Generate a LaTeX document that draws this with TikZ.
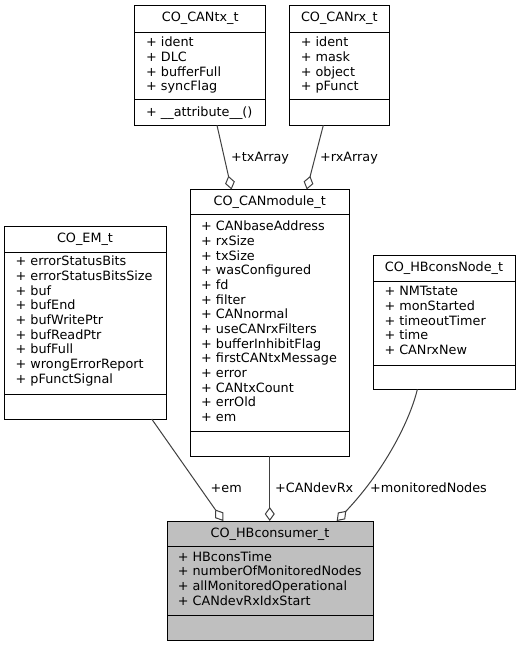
\documentclass[tikz,border=0pt]{standalone}
\usepackage{fontspec}
\setmainfont{DejaVu Sans}
\usetikzlibrary{arrows.meta}

\definecolor{edgegray}{HTML}{404040}
\definecolor{classgray}{HTML}{BFBFBF}
\newcommand\umlfont{\fontsize{12.8pt}{14.67pt}\selectfont}

% class box: name, left, right, top, first separator, second separator, bottom, title, fill
\newcommand\umlclass[9]{%
  \node[classbox, fill=#9, minimum width={(#3-#2)*1pt}, minimum height={(#7-#4)*1pt}]
    (#1) at ({(#2+#3)/2},{(#4+#7)/2}) {};
  \node[classtitle] (#1-title) at ({(#2+#3)/2},{#4+16.3}) {#8};
  \draw[line width=1pt] (#2,#5) -- (#3,#5) (#2,#6) -- (#3,#6);
}
% member lines: name, x, first baseline, list
\newcommand\umlmembers[4]{%
  \foreach \m [count=\k from 0] in {#4} {
    \node[member] (#1-m\k) at (#2,{#3+14.67*\k}) {\m};
  }
}

\begin{document}
\begin{tikzpicture}[x=1pt,y=-1pt,
  classbox/.style={draw=black, line width=1pt, inner sep=0pt, outer sep=0pt},
  member/.style={anchor=base west, inner sep=0pt, font=\umlfont},
  classtitle/.style={anchor=base, inner sep=0pt, font=\umlfont},
  rolelabel/.style={anchor=base west, inner sep=0pt, font=\umlfont},
  aggr/.style={draw=edgegray, line width=1pt,
    -{Diamond[open, length=14pt, width=10pt, line width=1pt]}},
]
\fill[white] (0,0) rectangle (521,647);
\useasboundingbox (0,0) rectangle (521,647);

% classes
\umlclass{cantx}{134.7}{265.7}{5.3}{32.3}{99.3}{125.3}{CO\_CANtx\_t}{white}
\umlmembers{cantx}{146}{46.7}{+ ident, + DLC, + bufferFull, + syncFlag}
\node[member] (cantx-op) at (146,116.7) {+ \_\_attribute\_\_()};

\umlclass{canrx}{289.3}{389.3}{5.3}{32.3}{99.3}{125.3}{CO\_CANrx\_t}{white}
\umlmembers{canrx}{300.6}{46.7}{+ ident, + mask, + object, + pFunct}

\umlclass{canmod}{190.5}{349}{189.5}{214}{431}{456}{CO\_CANmodule\_t}{white}
\umlmembers{canmod}{201}{230.7}{+ CANbaseAddress, + rxSize, + txSize, + wasConfigured,
  + fd, + filter, + CANnormal, + useCANrxFilters, + bufferInhibitFlag,
  + firstCANtxMessage, + error, + CANtxCount, + errOld, + em}

\umlclass{em}{4}{166}{226}{252.3}{394}{419}{CO\_EM\_t}{white}
\umlmembers{em}{15.5}{265.7}{+ errorStatusBits, + errorStatusBitsSize, + buf, + bufEnd,
  + bufWritePtr, + bufReadPtr, + bufFull, + wrongErrorReport, + pFunctSignal}

\umlclass{hbnode}{373}{515}{255}{281.7}{365.7}{389.5}{CO\_HBconsNode\_t}{white}
\umlmembers{hbnode}{384.3}{295.7}{+ NMTstate, + monStarted, + timeoutTimer, + time, + CANrxNew}

\umlclass{hb}{167}{373}{521}{546}{615}{640}{CO\_HBconsumer\_t}{classgray}
\umlmembers{hb}{177.6}{561}{+ HBconsTime, + numberOfMonitoredNodes,
  + allMonitoredOperational, + CANdevRxIdxStart}

% aggregations
\draw[aggr] ([xshift=16.8pt]cantx.south) -- ([xshift=-38.25pt]canmod.north);
\draw[aggr] ([xshift=-16pt]canrx.south) -- ([xshift=37pt]canmod.north);
\draw[aggr] ([xshift=66.7pt]em.south) -- ([xshift=-46.7pt]hb.north);
\draw[aggr] (canmod.south) -- (canmod.south |- hb.north);
\draw[aggr] ([xshift=-26.7pt]hbnode.south) .. controls (410,420) and (385,470)
  .. ([xshift=66.7pt]hb.north);

% role names
\node[rolelabel] (lbl-tx) at (231,162) {+txArray};
\node[rolelabel] (lbl-rx) at (320,162) {+rxArray};
\node[rolelabel] (lbl-em) at (210.5,492) {+em};
\node[rolelabel] (lbl-devrx) at (275,492) {+CANdevRx};
\node[rolelabel] (lbl-mon) at (370,492) {+monitoredNodes};
\end{tikzpicture}
\end{document}
